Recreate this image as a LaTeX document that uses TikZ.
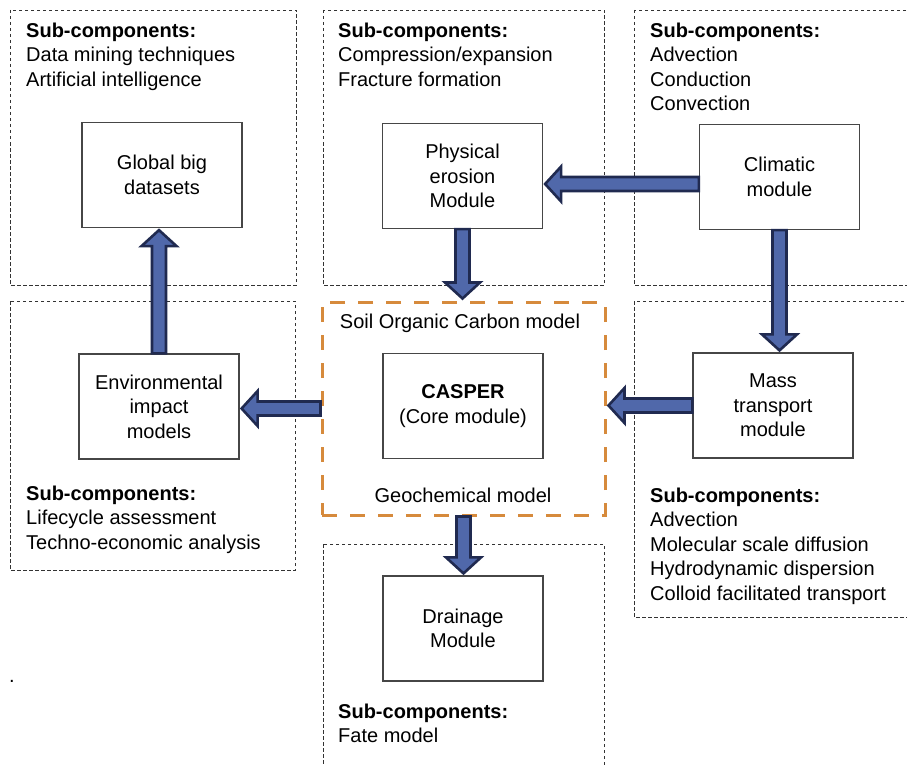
\documentclass[tikz,border=0pt]{standalone}
\usepackage{fontspec}
\setmainfont{Liberation Sans}
\usetikzlibrary{calc}

\definecolor{arrowfill}{RGB}{80,104,170}
\definecolor{arrowline}{RGB}{32,42,80}
\definecolor{socorange}{RGB}{214,138,60}
\definecolor{boxline}{RGB}{70,70,70}

\tikzset{
  every node/.style={font=\fontsize{20pt}{24.5pt}\selectfont},
  modbox/.style={draw=boxline, line width=1.2pt, minimum width=160pt,
    minimum height=105pt, align=center, inner sep=0pt},
  subbox/.style={draw=black!80, line width=0.9pt, dash pattern=on 3.5pt off 2.5pt},
  subtext/.style={anchor=north west, align=left, inner sep=0pt},
  socbox/.style={draw=socorange, line width=3pt, dash pattern=on 15pt off 13pt,
    minimum width=283pt, minimum height=213pt, inner sep=0pt},
  fatarrow/.style={draw=arrowline, fill=arrowfill, line width=2.6pt, line join=miter,
    to path={let \p1=(\tikztostart), \p2=(\tikztotarget),
      \n1={atan2(\y2-\y1,\x2-\x1)}, \n2={veclen(\x2-\x1,\y2-\y1)} in
      [shift={(\p1)}, rotate=\n1]
      (0pt,7pt) -- ({\n2-18pt},7pt) -- ({\n2-18pt},17.5pt) -- ({\n2-2pt},0pt)
      -- ({\n2-18pt},-17.5pt) -- ({\n2-18pt},-7pt) -- (0pt,-7pt) -- cycle}}
}

\begin{document}
\begin{tikzpicture}[x=1pt,y=-1pt]
  \useasboundingbox (0,0) rectangle (907,765);

  \draw[subbox] (10,10) rectangle (296,285);
  \draw[subbox] (323,10) rectangle (604,285);
  \draw[subbox] (634,10) rectangle (915,285);
  \draw[subbox] (10,301) rectangle (295,570);
  \draw[subbox] (634,301) rectangle (915,617);
  \draw[subbox] (323,544) rectangle (604,775);

  \node (globsub) at (26,22.4) [subtext] {\textbf{Sub-components:}\\Data mining techniques\\Artificial intelligence};
  \node (physsub) at (338,22.4) [subtext] {\textbf{Sub-components:}\\Compression/expansion\\Fracture formation};
  \node (climsub) at (650,22.4) [subtext] {\textbf{Sub-components:}\\Advection\\Conduction\\Convection};
  \node (envsub) at (26,485.4) [subtext] {\textbf{Sub-components:}\\Lifecycle assessment\\Techno-economic analysis};
  \node (masssub) at (650,487.4) [subtext] {\textbf{Sub-components:}\\Advection\\Molecular scale diffusion\\Hydrodynamic dispersion\\Colloid facilitated transport};
  \node (drainsub) at (338,703.4) [subtext] {\textbf{Sub-components:}\\Fate model};

  \node (soc) at (463.5,408.5) [socbox] {};
  \node (soctitle) at (460,323) {Soil Organic Carbon model};
  \node (geochem) at (463,495) {Geochemical model};

  \node (glob) at (162,175) [modbox] {Global big\\datasets};
  \node (phys) at (462.5,176) [modbox] {Physical\\erosion\\Module};
  \node (clim) at (779.5,177) [modbox] {Climatic\\module};
  \node (env) at (159,406.5) [modbox] {Environmental\\impact\\models};
  \node (casper) at (463,406) [modbox] {\textbf{CASPER}\\(Core module)};
  \node (mass) at (773,405.5) [modbox] {Mass\\transport\\module};
  \node (drain) at (463,628.5) [modbox] {Drainage\\Module};

  \node (dot) at (12,681) {.};

  \draw[fatarrow] ([yshift=-7pt]clim.west) to ([yshift=-7pt]clim.west -| phys.east);
  \draw[fatarrow] (soc.west) to (soc.west -| env.east);
  \draw[fatarrow] (mass.west) to (mass.west -| soc.east);
  \draw[fatarrow] (env.north) to (env.north |- glob.south);
  \draw[fatarrow] (phys.south) to (phys.south |- soc.north);
  \draw[fatarrow] (clim.south) to (clim.south |- mass.north);
  \draw[fatarrow] (soc.south) to (soc.south |- drain.north);
\end{tikzpicture}
\end{document}
